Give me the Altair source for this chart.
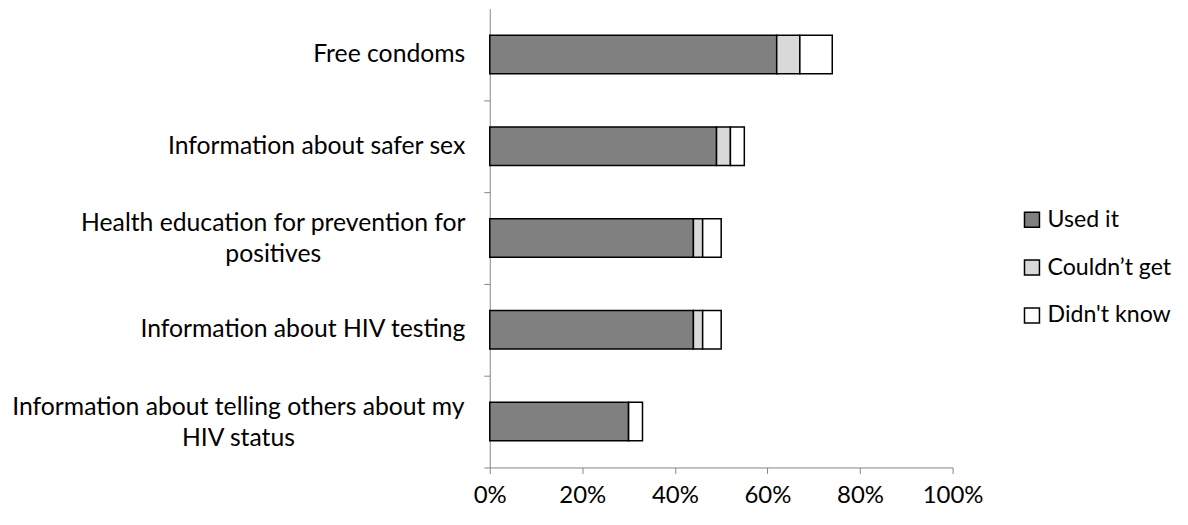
import altair as alt
import pandas as pd

categories = [
    "Free condoms",
    "Information about safer sex",
    "Health education for prevention for\npositives",
    "Information about HIV testing",
    "Information about telling others about my\nHIV status",
]
series = ["Used it", "Couldn\u2019t get", "Didn't know"]
used_it = [0.62, 0.49, 0.44, 0.44, 0.30]
couldnt_get = [0.05, 0.03, 0.02, 0.02, 0.00]
didnt_know = [0.07, 0.03, 0.04, 0.04, 0.03]
x_ticks = [0, 0.2, 0.4, 0.6, 0.8, 1.0]
colors = ["#808080", "#D9D9D9", "#FFFFFF"]

rows = []
for i, c in enumerate(categories):
    for j, (s, vals) in enumerate(zip(series, [used_it, couldnt_get, didnt_know])):
        rows.append({"category": c, "series": s, "value": vals[i], "order": j})
df = pd.DataFrame(rows)

FONT = "Lato"
FS = 24
FS_LEG = 23.2
FS_Y = 24.8
AXIS_GRAY = "#868686"

bars = (
    alt.Chart(df)
    .mark_bar(stroke="black", strokeWidth=1.5)
    .encode(
        x=alt.X(
            "value:Q",
            stack="zero",
            scale=alt.Scale(domain=[0, 1], nice=False),
            axis=alt.Axis(
                format=".0%",
                values=x_ticks,
                grid=False,
                title=None,
                labelFlush=False,
                domainColor=AXIS_GRAY,
                tickColor=AXIS_GRAY,
                tickSize=6,
                labelPadding=10,
                labelFont=FONT,
                labelFontSize=FS,
                labelColor="black",
            ),
        ),
        y=alt.Y(
            "category:N",
            sort=categories,
            scale=alt.Scale(paddingInner=0.58, paddingOuter=0.29),
            axis=alt.Axis(
                title=None,
                labelExpr="indexof(datum.value, '\\n') >= 0 ? '' : datum.label",
                domainColor=AXIS_GRAY,
                tickColor=AXIS_GRAY,
                tickSize=6,
                tickOffset=46,
                labelOffset=-46,
                labelPadding=19,
                labelFont=FONT,
                labelFontSize=FS_Y,
                labelColor="black",
                labelLimit=600,
            ),
        ),
        color=alt.Color(
            "series:N",
            sort=series,
            scale=alt.Scale(domain=series, range=colors),
            legend=alt.Legend(
                title=None,
                orient="none",
                legendX=532,
                legendY=200,
                symbolType="square",
                symbolSize=225,
                symbolStrokeColor="black",
                symbolStrokeWidth=1.5,
                labelFont=FONT,
                labelFontSize=FS_LEG,
                labelColor="black",
                rowPadding=24,
                labelOffset=4,
            ),
        ),
        order=alt.Order("order:Q", sort="ascending"),
    )
)


def wrapped_label(key, x_center):
    return (
        alt.Chart(df)
        .transform_filter(f"datum.series == 'Used it' && indexof(datum.category, '{key}') >= 0")
        .mark_text(
            align="center",
            baseline="middle",
            lineBreak="\n",
            lineHeight=31,
            dy=-14,
            font=FONT,
            fontSize=FS_Y,
            color="black",
        )
        .encode(
            y=alt.Y("category:N", sort=categories),
            x=alt.value(x_center),
            text="category:N",
        )
    )


label_telling = wrapped_label("telling", -252)
label_health = wrapped_label("Health", -217)

chart = (
    alt.layer(bars, label_telling, label_health)
    .properties(
        width=464,
        height=460,
        autosize=alt.AutoSizeParams(type="none"),
        padding={"left": 483, "top": 0, "right": 228, "bottom": 41},
    )
    .configure(background="white")
    .configure_view(stroke="transparent")
)

chart.save("out.html", embed_options={"renderer": "svg", "actions": False})
